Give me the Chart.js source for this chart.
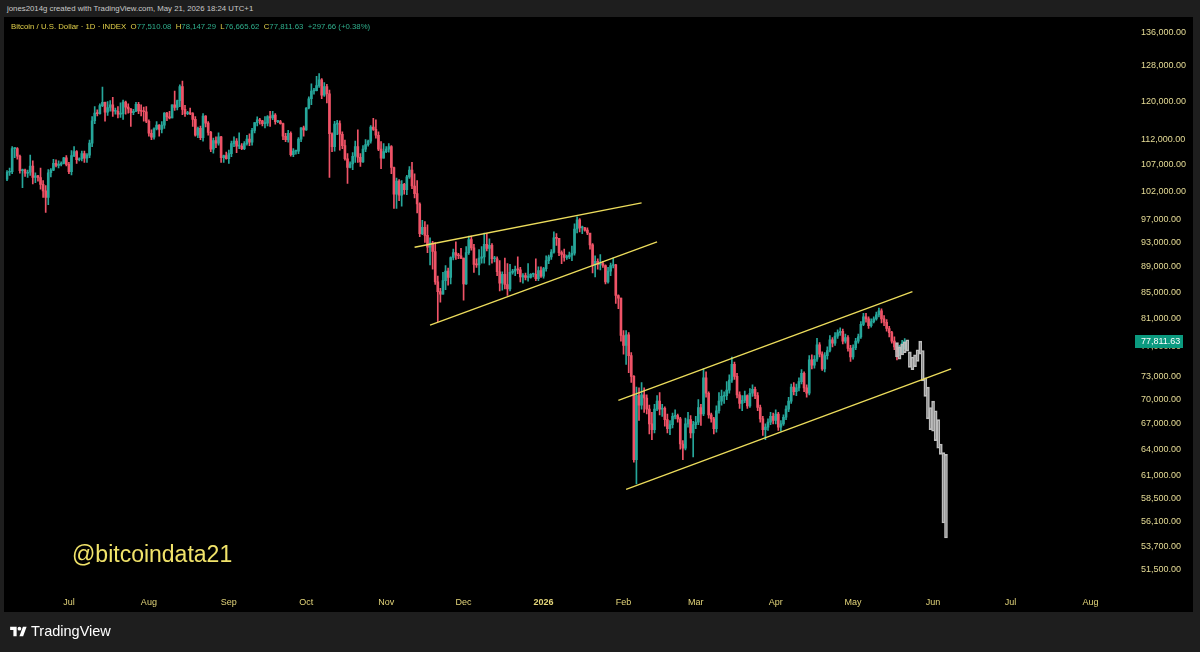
<!DOCTYPE html>
<html>
<head>
<meta charset="utf-8">
<script src="https://cdn.jsdelivr.net/npm/chart.js@4.4.1/dist/chart.umd.min.js"></script>
<style>
html, body { margin: 0; padding: 0; width: 1200px; height: 652px; overflow: hidden; background: #1e1e1e; font-family: "Liberation Sans", Arial, sans-serif; }
#panel { position: absolute; left: 4px; top: 17px; width: 1189px; height: 595px; background: #000; }
#wrap { position: absolute; left: 0; top: 0; width: 1200px; height: 652px; }
#hdr { position: absolute; left: 7px; top: 4px; font-size: 7.8px; color: #c9c9c9; white-space: nowrap; }
#legend { position: absolute; left: 11px; top: 22px; font-size: 7.8px; color: #e3d14a; white-space: nowrap; }
#legend .v { color: #2fae8c; }
#wm { position: absolute; left: 72px; top: 541px; font-size: 23px; color: #f1e36a; white-space: nowrap; }
#brand { position: absolute; left: 10px; top: 623px; color: #fff; font-size: 14.5px; display: flex; align-items: center; }
#brand svg { margin-right: 4px; }
</style>
</head>
<body>
<div id="hdr">jones2014g created with TradingView.com, May 21, 2026 18:24 UTC+1</div>
<div id="panel"></div>
<div id="wrap"><canvas id="grafico" width="1200" height="652"></canvas></div>
<div id="legend">Bitcoin / U.S. Dollar · 1D · INDEX &nbsp;O<span class="v">77,510.08</span> &nbsp;H<span class="v">78,147.29</span> &nbsp;L<span class="v">76,665.62</span> &nbsp;C<span class="v">77,811.63</span> &nbsp;<span class="v">+297.66 (+0.38%)</span></div>
<div id="wm">@bitcoindata21</div>
<div id="brand"><svg width="17" height="13" viewBox="0 0 36 28"><path d="M14 24H7V11H0V4h14v20zM28 24h-8l7.5-20h8L28 24z" fill="#fff"/><circle cx="20" cy="8" r="4" fill="#fff"/></svg>TradingView</div>

<script>
// Precios diarios en miles de USD, desde el 7 de junio de 2025
const primerOpen = 104.3;

const cierres = [
    // jun 2025
    105.6,105.7,110.2,110.2,108.7,105.9,106.0,105.4,105.6,106.8,104.6,104.9,104.6,103.3,102.1,100.9,105.5,106.0,107.3,106.9,107.1,107.3,108.4,107.1,
    // jul
    105.7,108.8,109.6,108.0,108.2,109.2,108.3,108.9,111.3,115.9,117.5,117.4,119.1,119.8,117.7,118.7,119.3,117.9,117.9,117.3,117.4,119.9,118.8,118.4,117.6,117.9,119.4,118.0,117.9,117.8,115.8,
    // ago
    113.3,112.5,114.2,115.0,114.1,115.0,117.5,116.7,116.5,119.3,118.7,120.2,123.3,118.3,117.4,117.5,117.4,116.2,112.9,114.3,112.4,116.9,115.4,113.5,110.1,111.8,111.3,112.6,108.4,108.8,108.2,
    // sep
    109.2,111.2,111.7,110.7,110.7,110.2,111.2,112.1,111.5,113.9,115.5,116.1,115.9,115.3,115.4,116.8,116.5,117.1,115.7,115.7,115.3,112.7,112.0,113.3,109.0,109.7,109.7,112.1,114.4,114.0,
    // oct
    118.6,120.6,122.3,122.4,123.5,124.8,121.4,123.3,121.7,113.2,110.6,115.2,115.3,113.1,110.8,108.2,106.5,107.2,108.7,110.6,108.5,107.6,110.1,111.0,111.7,114.6,114.1,112.9,110.1,108.3,109.6,
    // nov
    110.1,110.6,106.5,101.5,103.9,101.3,103.3,102.3,104.7,106.0,103.0,101.6,99.7,94.5,95.6,94.2,92.2,92.9,91.5,86.6,85.1,84.7,86.8,88.3,87.3,90.5,91.3,90.9,90.8,90.4,
    // dic
    86.3,91.3,93.5,92.1,89.4,89.3,90.4,90.6,92.7,92.0,92.5,90.3,90.3,88.2,86.4,87.8,86.2,85.5,88.1,88.3,88.6,88.5,87.4,87.6,87.3,87.3,87.8,87.8,87.1,88.4,87.5,
    // ene 2026
    88.7,90.0,90.6,91.4,93.8,93.7,91.3,91.0,90.5,90.6,90.9,91.2,95.3,96.9,95.5,95.5,95.1,94.6,92.6,89.3,89.9,89.4,89.5,89.2,86.6,88.3,89.2,89.3,84.5,84.1,78.6,
    // feb
    77.2,78.7,75.8,73.0,62.8,70.5,69.3,70.6,70.2,68.8,67.0,66.3,68.8,69.8,68.8,68.9,67.5,66.4,66.9,67.9,68.0,67.6,64.6,64.1,67.0,67.5,65.9,66.9,
    // mar
    67.2,69.0,68.2,72.8,70.8,68.1,67.6,66.4,68.6,69.8,70.4,70.5,71.2,72.5,74.6,73.0,70.6,69.5,69.9,70.5,69.2,70.8,71.3,70.5,69.0,67.6,66.3,66.6,67.2,67.9,67.4,
    // abr
    68.2,66.6,67.0,67.8,68.8,69.8,71.6,71.0,71.5,72.3,73.4,71.5,70.8,75.2,74.5,75.3,77.3,76.0,74.0,75.8,76.5,78.0,77.5,78.5,79.0,79.2,77.8,78.3,76.8,75.6,
    // may
    76.9,77.8,78.4,80.2,81.3,81.0,80.0,80.6,81.0,81.6,82.2,81.0,80.5,79.6,79.0,77.8,77.0,76.3,76.7,77.51008,77.81163
];

const maximos = [
    105.9,106.4,110.6,110.4,110.4,108.9,106.2,106.2,106.0,108.9,107.8,105.5,105.0,106.4,104.0,103.1,106.1,106.3,108.1,108.0,107.8,107.6,108.5,108.8,
    107.5,109.8,110.6,109.8,108.4,109.7,109.7,109.2,111.9,116.8,118.9,118.2,119.5,123.2,119.9,120.0,120.2,120.9,118.6,118.9,119.7,120.3,120.1,119.5,118.5,118.3,119.8,119.8,119.3,118.8,118.9,
    116.1,114.0,114.4,115.7,115.1,115.7,117.6,117.7,117.9,119.3,122.3,120.3,123.7,124.5,119.2,117.9,118.6,117.6,116.8,114.6,114.8,117.4,117.0,115.7,113.7,112.3,112.6,113.4,112.7,108.9,109.5,
    109.9,111.7,112.6,112.2,113.4,111.2,111.6,112.9,113.2,114.3,115.5,116.7,116.4,116.0,116.8,117.0,117.9,117.9,117.4,116.0,116.0,115.4,113.3,113.9,113.6,110.2,109.8,112.4,114.5,114.8,
    118.7,121.0,123.9,122.9,125.6,126.2,125.1,124.2,123.8,122.5,113.4,115.8,116.0,115.9,113.6,111.9,109.2,107.6,109.4,111.7,114.0,109.2,110.8,112.0,111.9,114.9,116.4,116.1,113.6,111.6,111.2,
    110.6,111.2,110.8,106.6,104.5,104.2,104.0,103.5,105.0,106.7,107.5,105.3,104.0,99.9,96.8,96.6,96.0,93.8,93.2,93.0,87.5,85.6,88.1,89.2,88.8,90.6,91.9,93.1,91.2,92.0,
    90.4,92.3,94.1,94.1,92.7,90.3,91.8,92.3,94.6,94.5,93.6,92.8,90.7,90.6,90.0,88.2,90.4,89.5,89.4,88.6,89.1,90.6,88.9,87.9,88.0,89.5,87.9,88.0,90.3,89.0,89.0,
    88.9,90.8,90.9,91.8,94.8,94.5,93.7,91.6,91.9,90.9,91.4,92.4,96.2,97.4,97.1,95.8,95.6,95.5,94.2,92.8,90.8,90.3,91.0,89.9,89.3,88.9,89.6,90.4,89.4,84.6,84.1,
    79.3,79.3,79.0,76.2,73.1,71.6,71.5,72.2,71.5,70.6,69.3,68.4,69.4,70.5,70.9,69.4,69.1,68.2,67.4,68.3,68.7,68.2,67.8,65.0,67.7,68.4,68.0,67.3,
    67.9,70.0,69.4,74.0,73.6,71.0,68.3,67.8,69.2,70.9,71.2,71.0,72.3,73.2,75.6,74.9,73.4,71.0,70.5,71.1,70.6,71.4,71.9,71.6,70.9,69.3,67.9,67.0,67.6,68.4,68.3,
    68.7,68.4,67.4,68.1,69.2,70.3,72.0,72.2,72.0,72.8,73.9,73.6,71.9,75.8,75.9,75.8,78.2,77.6,76.3,76.2,77.0,78.6,78.3,79.0,79.4,79.7,79.5,78.8,78.6,77.2,
    77.3,78.2,78.8,80.6,81.8,81.8,81.3,81.0,81.3,82.0,82.6,82.5,81.5,80.9,79.9,79.2,78.4,77.5,77.2,77.9,78.14729
];

const minimos = [
    104.0,105.0,105.3,108.4,108.1,105.4,102.7,104.8,104.6,105.0,103.4,103.6,103.9,102.4,100.9,98.2,99.6,104.7,105.9,106.6,106.4,106.8,107.2,106.8,
    105.3,105.1,108.6,107.3,107.8,107.8,107.5,107.5,108.4,110.6,115.3,116.9,117.3,118.9,115.8,117.0,117.9,116.8,117.3,116.5,116.6,116.2,117.3,117.5,114.7,117.2,117.8,117.4,116.9,115.8,115.5,
    112.7,112.0,112.1,114.0,112.7,113.4,114.3,115.9,116.3,116.5,118.1,118.2,118.9,117.2,116.8,117.2,117.2,114.7,112.7,112.4,112.0,111.7,114.6,112.9,109.6,109.3,110.4,110.9,107.5,107.5,108.1,
    107.3,108.6,110.6,109.4,110.2,110.0,110.0,110.9,110.8,110.9,113.4,114.8,115.2,114.8,114.4,114.8,114.7,116.1,115.2,115.5,115.2,112.0,111.6,111.5,108.7,108.6,109.1,109.2,111.6,112.7,
    113.9,118.4,119.3,121.6,122.3,123.1,120.6,121.1,119.7,104.6,109.6,109.7,113.0,109.9,110.2,107.9,103.5,106.4,106.1,107.5,107.5,106.7,107.5,109.6,110.7,111.3,113.9,112.3,109.8,106.3,108.3,
    109.4,109.5,105.3,98.9,98.9,100.3,99.3,101.5,101.4,104.4,102.5,100.8,98.1,94.0,94.3,93.0,91.3,89.3,88.6,86.2,80.6,83.5,84.7,85.4,86.1,86.3,90.1,90.2,90.3,90.3,
    83.8,86.2,91.0,91.7,88.1,88.9,87.7,89.6,89.6,91.6,89.3,89.6,89.8,87.6,85.2,85.3,85.5,84.5,85.2,87.8,87.6,87.9,86.6,86.4,86.9,86.7,87.2,87.4,86.8,86.8,87.3,
    87.2,88.3,89.5,90.2,91.2,92.5,90.8,89.5,89.9,90.2,90.3,90.0,90.9,94.6,94.8,94.5,94.9,94.3,91.9,88.0,87.4,88.6,88.5,88.9,86.3,86.4,87.6,88.8,83.3,82.5,77.8,
    76.0,74.6,73.5,72.2,62.5,60.1,67.4,68.8,68.4,68.2,65.8,65.1,65.9,68.6,68.1,67.9,66.7,65.9,65.7,66.5,67.6,67.2,64.0,62.8,63.9,66.6,65.3,63.1,
    66.4,66.9,66.8,68.0,70.3,67.7,67.2,65.8,66.0,68.3,69.3,69.5,70.0,70.8,72.2,72.6,70.2,68.9,68.6,69.6,68.9,69.0,70.4,70.1,68.6,67.2,65.6,65.1,66.2,66.9,67.0,
    67.0,66.2,66.1,66.8,67.5,68.5,69.5,70.6,70.5,71.1,72.0,71.0,70.3,70.6,74.0,74.1,75.0,75.6,73.8,73.6,75.3,76.3,77.0,77.2,78.2,78.6,77.4,77.5,76.4,75.0,
    75.3,76.6,77.5,78.2,80.0,80.5,79.6,79.8,80.4,80.8,81.3,80.4,80.0,79.2,78.4,77.5,76.6,75.2,75.8,76.2,76.66562
];

// Proyección gris (bars pattern) desde el 18 de mayo de 2026
const proyInicio = '2026-05-18';
const proyMax = [77.6,77.0,77.4,77.7,78.0,76.3,75.6,75.9,76.6,77.8,76.5,72.8,71.6,69.0,69.8,68.6,67.5,64.6,63.6,63.4];
const proyMin = [75.6,75.3,75.9,76.2,76.4,74.2,73.9,74.3,75.0,76.0,72.4,70.4,67.6,66.3,66.1,65.0,64.1,63.4,56.0,54.5];

// Líneas de tendencia (fecha, precio)
const cunaSup = [{ x: '2025-11-12', y: 92.2 }, { x: '2026-02-08', y: 99.9 }];
const cunaInf = [{ x: '2025-11-18', y: 80.1 }, { x: '2026-02-14', y: 93.1 }];
const canalSup = [{ x: '2026-01-30', y: 69.9 }, { x: '2026-05-24', y: 85.1 }];
const canalInf = [{ x: '2026-02-02', y: 59.5 }, { x: '2026-06-08', y: 74.0 }];

// Ticks del eje de precios
const ticksPrecio = [136, 128, 120, 112, 107, 102, 97, 93, 89, 85, 81, 77, 73, 70, 67, 64, 61, 58.5, 56.1, 53.7, 51.5];
const meses = ['Jan','Feb','Mar','Apr','May','Jun','Jul','Aug','Sep','Oct','Nov','Dec'];

// Un día por categoría, del 7 jun 2025 al 18 ago 2026
const fechas = [];
const inicio = Date.UTC(2025, 5, 7);
for (let i = 0; i < 437; i++) {
    fechas.push(new Date(inicio + i * 86400000).toISOString().slice(0, 10));
}

const VERDE = '#26a69a';
const ROJO = '#ef5367';
const AMARILLO = '#ecdc5c';

const aperturas = cierres.map((c, i) => i === 0 ? primerOpen : cierres[i - 1]);
const colores = cierres.map((c, i) => c >= aperturas[i] ? VERDE : ROJO);
const mechas = cierres.map((c, i) => [minimos[i], maximos[i]]);
const cuerpos = cierres.map((c, i) => [Math.min(aperturas[i], c), Math.max(aperturas[i], c)]);
const p0 = fechas.indexOf(proyInicio);
const proyeccion = proyMax.map((h, i) => ({ x: fechas[p0 + i], y: [proyMin[i], h] }));

const fmt = v => (v * 1000).toLocaleString('en-US', { minimumFractionDigits: 2, maximumFractionDigits: 2 });

const etiquetaPrecio = {
    id: 'etiquetaPrecio',
    afterDraw(chart) {
        const { ctx, scales: { y } } = chart;
        const ultimo = cierres[cierres.length - 1];
        const py = y.getPixelForValue(ultimo);
        ctx.save();
        ctx.fillStyle = '#0b9a7f';
        ctx.fillRect(y.left + 2, Math.round(py) - 6, 48, 13);
        ctx.fillStyle = '#ffffff';
        ctx.font = '9px "Liberation Sans", Arial, sans-serif';
        ctx.textAlign = 'left';
        ctx.textBaseline = 'middle';
        ctx.fillText(fmt(ultimo), y.left + 8, Math.round(py) + 0.5);
        ctx.restore();
    }
};

const linea = (datos) => ({
    type: 'line',
    data: datos,
    borderColor: AMARILLO,
    borderWidth: 1.3,
    pointRadius: 0,
    fill: false,
    order: 0
});

new Chart(document.getElementById('grafico').getContext('2d'), {
    type: 'bar',
    data: {
        labels: fechas,
        datasets: [
            linea(cunaSup), linea(cunaInf), linea(canalSup), linea(canalInf),
            {
                data: proyeccion,
                backgroundColor: 'rgba(190, 190, 190, 0.25)',
                borderColor: '#bdbdbd',
                borderWidth: 1,
                borderSkipped: false,
                barThickness: 3,
                grouped: false,
                order: 1
            },
            {
                data: cuerpos,
                backgroundColor: colores,
                barThickness: 2,
                minBarLength: 1,
                grouped: false,
                order: 2
            },
            {
                data: mechas,
                backgroundColor: colores,
                barThickness: 1,
                grouped: false,
                order: 3
            }
        ]
    },
    options: {
        responsive: false,
        animation: false,
        events: [],
        layout: { padding: { left: 3, top: 17, right: 7, bottom: 40 } },
        plugins: { legend: { display: false }, tooltip: { enabled: false } },
        scales: {
            x: {
                type: 'category',
                offset: true,
                grid: { display: false, drawTicks: false },
                border: { display: false },
                afterFit: (s) => { s.height = 22; },
                ticks: {
                    autoSkip: false,
                    maxRotation: 0,
                    padding: 7,
                    color: '#e3d57a',
                    font: (c) => ({ family: 'Liberation Sans', size: 9, weight: c.tick && c.tick.label === '2026' ? 'bold' : 'normal' }),
                    callback: function (v) {
                        const s = this.getLabelForValue(v);
                        if (s.slice(8) !== '01') return '';
                        const m = +s.slice(5, 7);
                        return m === 1 ? s.slice(0, 4) : meses[m - 1];
                    }
                }
            },
            y: {
                type: 'logarithmic',
                position: 'right',
                min: 49.608,
                max: 139.815,
                grid: { display: false, drawTicks: false },
                border: { display: false },
                afterFit: (s) => { s.width = 60; },
                afterBuildTicks: (s) => { s.ticks = ticksPrecio.map(v => ({ value: v })); },
                ticks: {
                    padding: 8,
                    color: '#e6dc96',
                    font: { family: 'Liberation Sans', size: 9 },
                    callback: (v) => fmt(v)
                }
            }
        }
    },
    plugins: [etiquetaPrecio]
});
</script>
</body>
</html>
